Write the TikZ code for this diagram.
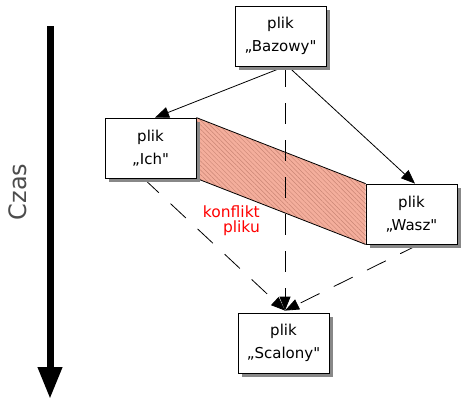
\documentclass[tikz,border=0pt]{standalone}
\usepackage{fontspec}
\setmainfont{DejaVu Sans}
\newfontfamily\plainsans{DejaVu Sans}
\usetikzlibrary{arrows.meta,shadows,patterns.meta,backgrounds}
\definecolor{salmon}{HTML}{F4AE9C}
\definecolor{hatch}{HTML}{C98574}
\definecolor{shadowgray}{HTML}{888888}
\tikzset{
  filebox/.style={draw=black, line width=0.8pt, fill=white, minimum width=91pt, minimum height=60pt,
    inner sep=0pt, align=center, font=\plainsans\fontsize{15}{23.5}\selectfont,
    drop shadow={fill=shadowgray, opacity=1, shadow xshift=4pt, shadow yshift=-4pt}},
  flow/.style={line width=0.8pt, -{Triangle[length=14pt,width=11pt]}},
  mergeflow/.style={flow, dash pattern=on 21pt off 16pt},
  conflict/.style={fill=salmon, postaction={pattern={Lines[angle=-45,distance=3.2pt,line width=0.45pt]}, pattern color=hatch}},
}
\begin{document}
\begin{tikzpicture}[x=1pt,y=-1pt]
\useasboundingbox (0,0) rectangle (462,413);
% time axis
\coordinate (ttop) at (50,26);
\coordinate (tbot) at (50,399);
\draw[line width=7pt, -{Triangle[length=32pt,width=23pt]}] (ttop) -- (tbot);
\node[rotate=90, font=\fontsize{24}{26}\selectfont, text=black!70] (czas) at (18,192) {Czas};
% files
\node[filebox] (baz) at (280.5,36) {plik\\„Bazowy"};
\node[filebox] (ich) at (150.5,148) {plik\\„Ich"};
\node[filebox] (wasz) at (411.5,214) {plik\\„Wasz"};
\node[filebox] (scal) at (283.5,343) {plik\\„Scalony"};
\coordinate (tip) at ([xshift=1.5pt,yshift=2pt]scal.north);
\begin{scope}[on background layer]
  \path[conflict] (ich.north east) -- (wasz.north west) -- (wasz.south west) -- (ich.south east) -- cycle;
  \draw[line width=0.8pt] (ich.north east) -- (wasz.north west);
  \draw[line width=0.8pt] (ich.south east) -- (wasz.south west);
  \draw[flow] ([xshift=4.5pt]baz.south) -- ([xshift=4.5pt]ich.north);
  \draw[flow] ([xshift=7.5pt]baz.south) -- ([xshift=3.5pt]wasz.north);
  \draw[mergeflow] ([xshift=4.5pt]baz.south) -- (tip);
  \draw[mergeflow] ([xshift=-7pt]ich.south) -- (tip);
  \draw[mergeflow] ([xshift=7.5pt]wasz.south) -- (tip);
\end{scope}
\node[anchor=north east, inner sep=0pt, align=right, text=red, font=\fontsize{15.5}{14.5}\selectfont] (konf) at (260,206) {konflikt\\pliku};
\end{tikzpicture}
\end{document}
